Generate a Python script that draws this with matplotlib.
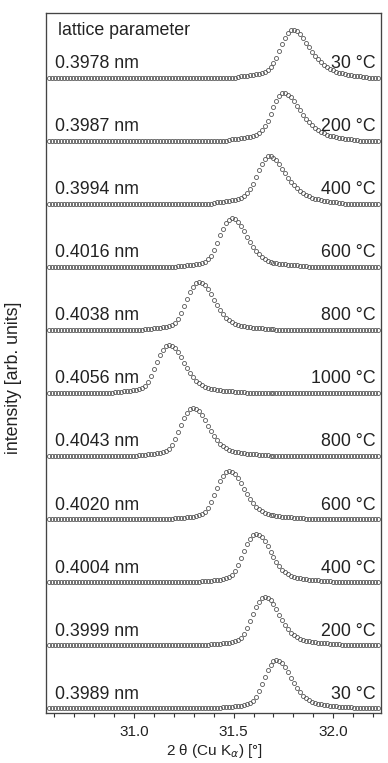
import numpy as np
import matplotlib
matplotlib.use("Agg")
import matplotlib.pyplot as plt
from matplotlib.ticker import MultipleLocator

plt.rcParams['font.family'] = ['Liberation Sans', 'DejaVu Sans']

# 2-theta sampling grid of the scans (degrees)
two_theta = np.round(30.575 + 0.015 * np.arange(111), 3)

# annealing sequence, top to bottom
temperatures = ["30 °C", "200 °C", "400 °C", "600 °C", "800 °C", "1000 °C",
                "800 °C", "600 °C", "400 °C", "200 °C", "30 °C"]
lattice = ["0.3978 nm", "0.3987 nm", "0.3994 nm", "0.4016 nm", "0.4038 nm",
           "0.4056 nm", "0.4043 nm", "0.4020 nm", "0.4004 nm", "0.3999 nm",
           "0.3989 nm"]

# first grid index of each measured peak window
window_start = [63, 60, 55, 43, 32, 22, 30, 42, 51, 54, 58]

# measured intensities inside each window (arb. units); zero elsewhere
scan_30a = [1.2, 1.4, 1.7, 2.1, 2.5, 3.0, 3.5, 4.1, 4.9, 6.0, 7.8, 10.5, 14.5, 20.0,
            26.5, 33.5, 40.0, 45.0, 48.0, 48.0, 46.2, 43.3, 39.5, 35.0, 30.5, 26.0,
            22.0, 18.5, 15.3, 12.7, 10.5, 8.8, 7.4, 6.2, 5.2, 4.4, 3.7, 3.1, 2.6,
            2.2, 1.8, 1.5, 1.2, 1.0]
scan_200a = [1.2, 1.4, 1.7, 2.1, 2.5, 3.0, 3.5, 4.1, 4.9, 6.0, 7.8, 10.5, 14.5, 20.0,
             26.5, 33.5, 40.0, 45.0, 48.0, 48.0, 46.2, 43.3, 39.5, 35.0, 30.5, 26.0,
             22.0, 18.5, 15.3, 12.7, 10.5, 8.8, 7.4, 6.2, 5.2, 4.4, 3.7, 3.1, 2.6,
             2.2, 1.8, 1.5, 1.2, 1.0]
scan_400a = [1.2, 1.4, 1.7, 2.1, 2.5, 3.0, 3.5, 4.1, 4.9, 6.0, 7.8, 10.5, 14.5, 20.0,
             26.5, 33.5, 40.0, 45.0, 48.0, 48.0, 46.2, 43.3, 39.5, 35.0, 30.5, 26.0,
             22.0, 18.5, 15.3, 12.7, 10.5, 8.8, 7.4, 6.2, 5.2, 4.4, 3.7, 3.1, 2.6,
             2.2, 1.8, 1.5, 1.2, 1.0]
scan_600a = [0.8, 1.0, 1.2, 1.4, 1.7, 2.0, 2.4, 2.9, 3.6, 4.8, 7.3, 10.7, 16.7, 24.0,
             31.3, 38.0, 43.3, 46.7, 48.3, 47.3, 44.7, 40.7, 35.7, 30.0, 24.7, 20.0,
             15.7, 12.3, 10.0, 7.8, 6.2, 5.0, 4.2, 3.6, 3.1, 2.7, 2.3, 2.0, 1.7,
             1.5, 1.3, 1.1, 1.0, 0.9]
scan_800a = [0.8, 1.0, 1.2, 1.4, 1.7, 2.0, 2.4, 2.9, 3.6, 4.8, 7.3, 10.7, 16.7, 24.0,
             31.3, 38.0, 43.3, 46.7, 48.3, 47.3, 44.7, 40.7, 35.7, 30.0, 24.7, 20.0,
             15.7, 12.3, 10.0, 7.8, 6.2, 5.0, 4.2, 3.6, 3.1, 2.7, 2.3, 2.0, 1.7,
             1.5, 1.3, 1.1, 1.0, 0.9]
scan_1000 = [0.8, 1.0, 1.2, 1.4, 1.7, 2.0, 2.4, 2.9, 3.6, 4.8, 7.3, 10.7, 16.7, 24.0,
             31.3, 38.0, 43.3, 46.7, 48.3, 47.3, 44.7, 40.7, 35.7, 30.0, 24.7, 20.0,
             15.7, 12.3, 10.0, 7.8, 6.2, 5.0, 4.2, 3.6, 3.1, 2.7, 2.3, 2.0, 1.7,
             1.5, 1.3, 1.1, 1.0, 0.9]
scan_800b = [0.8, 1.0, 1.2, 1.4, 1.7, 2.0, 2.4, 2.9, 3.6, 4.8, 7.3, 10.7, 16.7, 24.0,
             31.3, 38.0, 43.3, 46.7, 48.3, 47.3, 44.7, 40.7, 35.7, 30.0, 24.7, 20.0,
             15.7, 12.3, 10.0, 7.8, 6.2, 5.0, 4.2, 3.6, 3.1, 2.7, 2.3, 2.0, 1.7,
             1.5, 1.3, 1.1, 1.0, 0.9]
scan_600b = [0.8, 1.0, 1.2, 1.4, 1.7, 2.0, 2.4, 2.9, 3.6, 4.8, 7.3, 10.7, 16.7, 24.0,
             31.3, 38.0, 43.3, 46.7, 48.3, 47.3, 44.7, 40.7, 35.7, 30.0, 24.7, 20.0,
             15.7, 12.3, 10.0, 7.8, 6.2, 5.0, 4.2, 3.6, 3.1, 2.7, 2.3, 2.0, 1.7,
             1.5, 1.3, 1.1, 1.0, 0.9]
scan_400b = [0.8, 1.0, 1.2, 1.4, 1.7, 2.0, 2.4, 2.9, 3.6, 4.8, 7.3, 10.7, 16.7, 24.0,
             31.3, 38.0, 43.3, 46.7, 48.3, 47.3, 44.7, 40.7, 35.7, 30.0, 24.7, 20.0,
             15.7, 12.3, 10.0, 7.8, 6.2, 5.0, 4.2, 3.6, 3.1, 2.7, 2.3, 2.0, 1.7,
             1.5, 1.3, 1.1, 1.0, 0.9]
scan_200b = [0.8, 1.0, 1.2, 1.4, 1.7, 2.0, 2.4, 2.9, 3.6, 4.8, 7.3, 10.7, 16.7, 24.0,
             31.3, 38.0, 43.3, 46.7, 48.3, 47.3, 44.7, 40.7, 35.7, 30.0, 24.7, 20.0,
             15.7, 12.3, 10.0, 7.8, 6.2, 5.0, 4.2, 3.6, 3.1, 2.7, 2.3, 2.0, 1.7,
             1.5, 1.3, 1.1, 1.0, 0.9]
scan_30b = [0.8, 1.0, 1.2, 1.4, 1.7, 2.0, 2.4, 2.9, 3.6, 4.8, 7.3, 10.7, 16.7, 24.0,
            31.3, 38.0, 43.3, 46.7, 48.3, 47.3, 44.7, 40.7, 35.7, 30.0, 24.7, 20.0,
            15.7, 12.3, 10.0, 7.8, 6.2, 5.0, 4.2, 3.6, 3.1, 2.7, 2.3, 2.0, 1.7,
            1.5, 1.3, 1.1, 1.0, 0.9]

scans = [scan_30a, scan_200a, scan_400a, scan_600a, scan_800a, scan_1000,
         scan_800b, scan_600b, scan_400b, scan_200b, scan_30b]

offset_step = 63.0
n = len(scans)

fig = plt.figure(figsize=(3.88, 7.63), dpi=100)
ax = fig.add_axes([0.1178, 0.0655, 0.8642, 0.9175])

text_color = "#222222"
for k, (scan, start) in enumerate(zip(scans, window_start)):
    intensity = np.zeros_like(two_theta)
    intensity[start:start + len(scan)] = scan
    base = (n - 1 - k) * offset_step
    ax.plot(two_theta, intensity + base, linestyle="none", marker="o",
            markersize=2.9, markerfacecolor="none", markeredgecolor="#555555",
            markeredgewidth=0.6)
    ax.text(30.602, base + 9.4, lattice[k], fontsize=12.8, ha="left",
            va="baseline", color=text_color)
    ax.text(32.215, base + 9.4, temperatures[k], fontsize=12.8, ha="right",
            va="baseline", color=text_color)

ax.text(30.616, (n - 1) * offset_step + 42.7, "lattice parameter", fontsize=12.8,
        ha="left", va="baseline", color=text_color)

ax.set_xlim(30.556, 32.24)
ax.set_ylim(-5.0, (n - 1) * offset_step + 64.7)

ax.xaxis.set_major_locator(MultipleLocator(0.5))
ax.xaxis.set_minor_locator(MultipleLocator(0.1))
ax.xaxis.set_major_formatter(plt.FuncFormatter(lambda v, p: f"{v:.1f}"))
ax.tick_params(axis="x", which="major", direction="out", length=3.6, width=0.8,
               labelsize=11, colors="#333333", labelcolor=text_color, pad=5)
ax.tick_params(axis="x", which="minor", direction="out", length=2.8, width=0.8,
               colors="#333333")
ax.tick_params(axis="y", left=False, labelleft=False)
for s in ax.spines.values():
    s.set_color("#444444")
    s.set_linewidth(0.95)

fig.text(14 / 388, 1 - 378 / 763, "intensity [arb. units]", rotation=90,
         ha="center", va="center", fontsize=12.8, color=text_color)
fig.text(214 / 388, 0.011, "2 θ (Cu K$_{\\alpha}$) [°]", ha="center", va="baseline",
         fontsize=11, color=text_color)

fig.savefig("out.png", dpi=100)
